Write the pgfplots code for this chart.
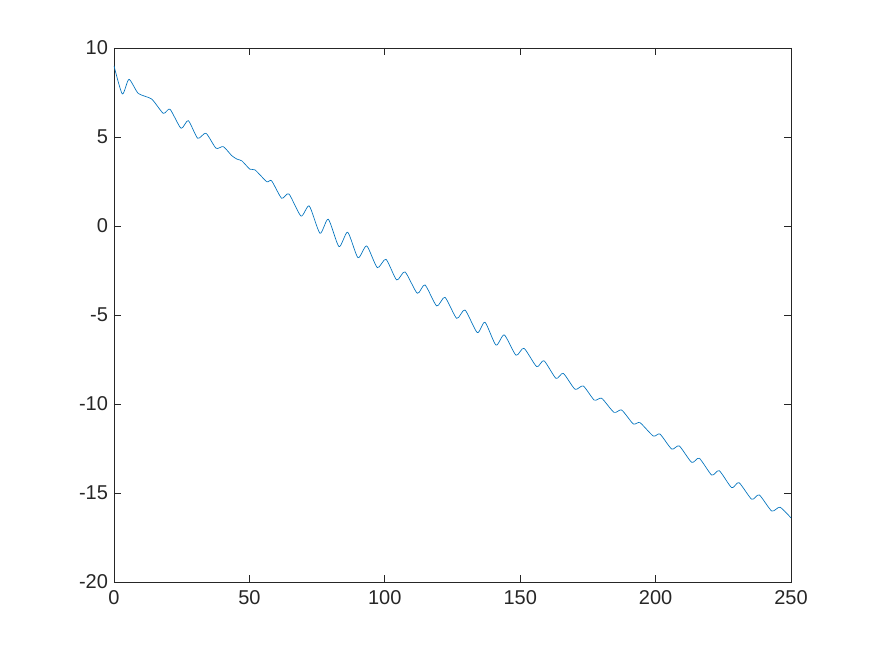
\documentclass[border=0pt]{standalone}
\usepackage{fontspec}
\setmainfont{Liberation Sans}
\usepackage{pgfplots}
\pgfplotsset{compat=1.18}

\definecolor{mlblue}{rgb}{0,0.447,0.741}
\definecolor{mlaxis}{rgb}{0.15,0.15,0.15}

\begin{document}
\begin{tikzpicture}
\useasboundingbox (-85.5pt,-55.5pt) rectangle (570.75pt,436.5pt);
\begin{axis}[
    scale only axis,
    width=507.75pt,
    height=400.5pt,
    xmin=0, xmax=250,
    ymin=-20, ymax=10,
    xtick={0,50,100,150,200,250},
    ytick={-20,-15,-10,-5,0,5,10},
    tick align=inside,
    major tick length=5pt,
    axis line style={mlaxis, line width=0.5pt},
    every tick/.style={mlaxis, line width=0.5pt},
    tick label style={font=\fontsize{15}{18}\selectfont, text=mlaxis},
    /pgf/number format/assume math mode=true,
    xticklabel style={yshift=-3pt},
    yticklabel style={xshift=-1pt},
]
\addplot[color=mlblue, line width=0.5pt, smooth, tension=0.4] coordinates {
    (0,9.0) (3.07,7.42) (5.54,8.24) (8.97,7.45) (13.92,7.13)
    (18.2,6.33) (20.68,6.56) (24.74,5.49) (27.44,5.92) (30.91,4.93)
    (33.97,5.21) (37.67,4.37) (40.36,4.46) (43.5,3.95) (45.5,3.75)
    (47.2,3.66) (50.2,3.19) (52.1,3.15) (56.4,2.49) (58.2,2.54)
    (61.9,1.56) (64.6,1.80) (69.05,0.56)
    (72.12,1.12) (76.07,-0.41) (79.14,0.38) (83.09,-1.16) (86.3,-0.35)
    (90.1,-1.78) (93.32,-1.12) (97.23,-2.34) (100.44,-1.87) (104.39,-3.03)
    (107.46,-2.58) (112.0,-3.78) (114.84,-3.31) (119.16,-4.49) (122.23,-4.01)
    (126.55,-5.19) (129.62,-4.72) (134.16,-5.99) (137.0,-5.41) (141.06,-6.69)
    (144.13,-6.12) (148.45,-7.26) (151.4,-6.87) (156.09,-7.90) (158.79,-7.57)
    (163.22,-8.56) (165.92,-8.28) (170.24,-9.17) (173.3,-8.99) (177.36,-9.78)
    (180.1,-9.68) (184.64,-10.47) (187.48,-10.34) (191.76,-11.12) (194.24,-11.05)
    (199.15,-11.80) (201.62,-11.69) (205.94,-12.53) (208.75,-12.36) (213.33,-13.28)
    (216.14,-13.05) (220.72,-13.99) (223.52,-13.75) (228.1,-14.70) (230.8,-14.42)
    (235.49,-15.35) (238.29,-15.11) (242.87,-16.01) (245.94,-15.80) (250,-16.40)
};
\end{axis}
\end{tikzpicture}
\end{document}
